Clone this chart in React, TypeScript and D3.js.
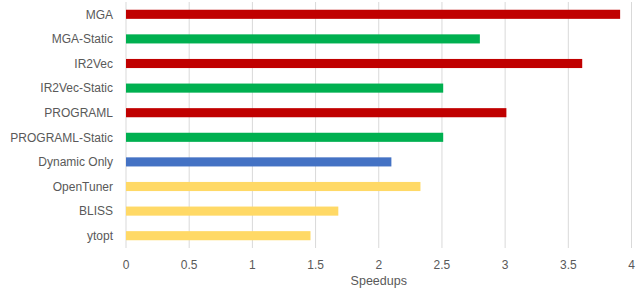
import React from "react";
import * as d3 from "d3";

const categories = ["MGA", "MGA-Static", "IR2Vec", "IR2Vec-Static", "PROGRAML", "PROGRAML-Static", "Dynamic Only", "OpenTuner", "BLISS", "ytopt"];
const speedups = [3.91, 2.8, 3.61, 2.51, 3.01, 2.51, 2.1, 2.33, 1.68, 1.46];
const groups = ["MGA", "Static", "MGA", "Static", "MGA", "Static", "Dynamic", "Baseline", "Baseline", "Baseline"];
const xTicks = [0, 0.5, 1, 1.5, 2, 2.5, 3, 3.5, 4];
const groupColors: Record<string, string> = { MGA: "#C00000", Static: "#00B050", Dynamic: "#4472C4", Baseline: "#FFD966" };

export default function App() {
  const W = 638, H = 294;
  const left = 126, right = 631.5, top = 2, bottom = 248;
  const x = d3.scaleLinear().domain([0, 4]).range([left, right]);
  const y = d3.scaleBand().domain(categories).range([top, bottom]).paddingInner(0.63).paddingOuter(0.315);
  const font = "'Liberation Sans', Arial, sans-serif";
  return (
    <svg width={W} height={H} style={{ position: "absolute", left: 0, top: 0, background: "#fff" }} fontFamily={font}>
      {xTicks.map((t) => (
        <line key={"g" + t} x1={x(t)} x2={x(t)} y1={top} y2={bottom} stroke="#D9D9D9" strokeWidth={1} />
      ))}
      {categories.map((c, i) => (
        <rect key={c} x={x(0)} y={y(c)!} width={x(speedups[i]) - x(0)} height={y.bandwidth()} fill={groupColors[groups[i]]} />
      ))}
      {categories.map((c) => (
        <text key={"l" + c} x={113} y={y(c)! + y.bandwidth() / 2} dy="0.35em" textAnchor="end" fontSize={12} fill="#595959">{c}</text>
      ))}
      {xTicks.map((t) => (
        <text key={"t" + t} x={x(t)} y={265} dy="0.35em" textAnchor="middle" fontSize={12} fill="#595959">{String(t)}</text>
      ))}
      <text x={(left + right) / 2} y={281} dy="0.35em" textAnchor="middle" fontSize={12.5} fill="#595959">Speedups</text>
    </svg>
  );
}
